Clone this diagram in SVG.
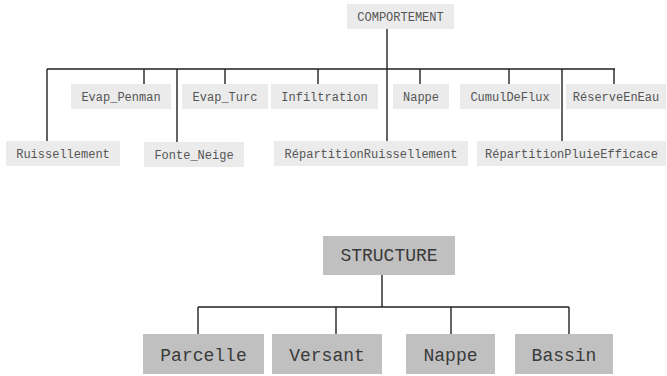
<svg xmlns="http://www.w3.org/2000/svg" width="667" height="376" viewBox="0 0 667 376">
<style>
.b1{fill:#ebebeb}
.b2{fill:#c0c0c0}
.t1{font-family:"Liberation Mono","Courier New",monospace;font-size:12px;fill:#555;text-anchor:middle}
.t2{font-family:"Liberation Mono","Courier New",monospace;font-size:18px;fill:#3a3a3a;text-anchor:middle}
.c{stroke:#222;stroke-width:1.4;fill:none}
</style>
<rect width="667" height="376" fill="#fff"/>
<g id="connectors">
<path class="c" d="M47 69H615M387 29V141M47 69V141M144 69V84M177 69V142M225 69V84M318 69V84M420 69V84M509 69V84M562 69V141M614 69V84"/>
<path class="c" d="M382 275V307M198 307H569M198 307V334M336 307V334M451 307V334M569 307V334"/>
</g>
<g id="comportement"><rect class="b1" x="347" y="4" width="107" height="25"/><text class="t1" x="400.5" y="20.5">COMPORTEMENT</text></g>
<g id="ruissellement"><rect class="b1" x="6" y="141" width="114" height="25"/><text class="t1" x="63" y="157.5">Ruissellement</text></g>
<g id="evap_penman"><rect class="b1" x="71" y="84" width="100" height="25"/><text class="t1" x="121" y="100.5">Evap_Penman</text></g>
<g id="fonte_neige"><rect class="b1" x="144" y="142" width="100" height="25"/><text class="t1" x="194" y="158.5">Fonte_Neige</text></g>
<g id="evap_turc"><rect class="b1" x="182" y="84" width="86" height="25"/><text class="t1" x="225" y="100.5">Evap_Turc</text></g>
<g id="infiltration"><rect class="b1" x="271" y="84" width="107" height="25"/><text class="t1" x="324.5" y="100.5">Infiltration</text></g>
<g id="repartition_ruissellement"><rect class="b1" x="274" y="141" width="194" height="25"/><text class="t1" x="371" y="157.5">RépartitionRuissellement</text></g>
<g id="nappe_c"><rect class="b1" x="393" y="84" width="56" height="25"/><text class="t1" x="421" y="100.5">Nappe</text></g>
<g id="cumuldeflux"><rect class="b1" x="460" y="84" width="100" height="25"/><text class="t1" x="510" y="100.5">CumulDeFlux</text></g>
<g id="reserveeneau"><rect class="b1" x="566" y="84" width="100" height="25"/><text class="t1" x="616" y="100.5">RéserveEnEau</text></g>
<g id="repartition_pluie"><rect class="b1" x="477" y="141" width="189" height="25"/><text class="t1" x="571.5" y="157.5">RépartitionPluieEfficace</text></g>
<g id="structure"><rect class="b2" x="323" y="236" width="132" height="39"/><text class="t2" x="389" y="261">STRUCTURE</text></g>
<g id="parcelle"><rect class="b2" x="143" y="334" width="121" height="40"/><text class="t2" x="203.5" y="360.5">Parcelle</text></g>
<g id="versant"><rect class="b2" x="272" y="334" width="110" height="40"/><text class="t2" x="327" y="360.5">Versant</text></g>
<g id="nappe_s"><rect class="b2" x="406" y="334" width="89" height="40"/><text class="t2" x="450.5" y="360.5">Nappe</text></g>
<g id="bassin"><rect class="b2" x="515" y="334" width="98" height="40"/><text class="t2" x="564" y="360.5">Bassin</text></g>
</svg>
